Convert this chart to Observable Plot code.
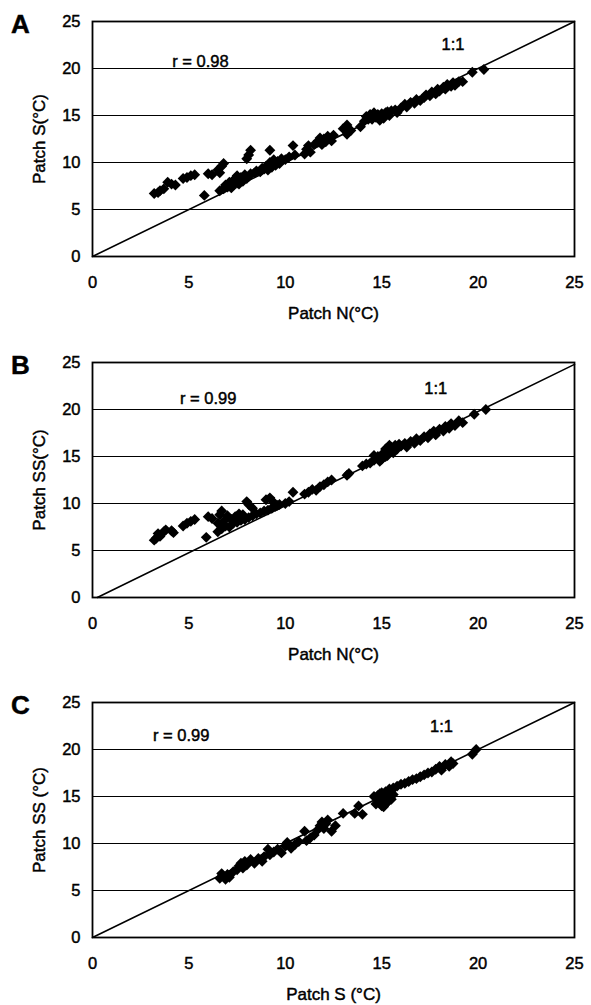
<!DOCTYPE html>
<html>
<head>
<meta charset="utf-8">
<script src="https://cdn.jsdelivr.net/npm/d3@7"></script>
<script src="https://cdn.jsdelivr.net/npm/@observablehq/plot@0.6"></script>
<style>
  html, body { margin: 0; padding: 0; background: #fff; }
  #wrap { position: relative; width: 591px; height: 1005px; overflow: hidden; }
  #wrap svg { position: absolute; left: 0; overflow: visible; }
  #wrap svg text { stroke: #000; stroke-width: 0.45px; }
</style>
</head>
<body>
<div id="wrap"></div>
<script>
// ---------- DATA ----------
const panelLetters = ["A", "B", "C"];
const xTitles = ["Patch N(°C)", "Patch N(°C)", "Patch S (°C)"];
const yTitles = ["Patch S(°C)", "Patch SS(°C)", "Patch SS (°C)"];
const rLabels = ["r = 0.98", "r = 0.99", "r = 0.99"];
const rLabelPos = [[5.6, 20.75], [6.0, 21.2], [4.6, 21.5]];
const oneToOnePos = [[18.7, 22.5], [17.8, 22.2], [18.1, 22.4]];
const oneToOneLines = [
  [[0, 0], [25, 25]],
  [[0.25, 0], [25, 24.8]],
  [[0, 0], [25, 25]]
];
const tickValues = [0, 5, 10, 15, 20, 25];
const gridValues = [5, 10, 15, 20];

// Panel A: Patch N (x) vs Patch S (y)
const pointsA = [
  [3.2,6.7],[3.4,6.8],[3.5,7.0],[3.7,7.2],[3.9,7.9],[4.1,7.7],[4.3,7.6],[4.7,8.3],[4.9,8.4],[5.1,8.6],
  [5.3,8.7],[6.0,8.8],[6.2,8.7],[6.5,9.2],[6.7,9.6],[6.8,9.9],[6.6,8.9],[8.0,10.4],[8.1,10.8],[8.2,11.3],
  [9.2,11.3],[10.4,11.8],[13.2,14.0],[13.0,13.6],[11.2,11.8],
  [5.8,6.5],[6.6,7.0],[6.8,7.2],[6.9,7.6],[7.0,7.4],[7.1,7.9],[7.2,7.6],[7.3,8.0],[7.4,8.3],[7.5,7.8],
  [7.5,8.6],[7.6,8.1],[7.7,8.4],[7.8,8.0],[7.9,8.7],[8.0,8.3],[8.2,8.8],[8.4,8.9],[8.5,9.1],[8.7,9.0],
  [8.9,9.3],[9.0,9.6],[9.1,9.2],[9.2,10.0],[9.3,9.5],[9.4,10.3],[9.5,9.7],[9.6,10.1],[9.7,9.9],[9.8,10.4],
  [10.0,10.3],[10.2,10.6],[10.5,10.8],[11.0,10.9],[11.1,11.4],[11.3,11.1],[11.5,11.9],[11.7,12.3],[11.8,12.6],[11.9,11.9],
  [12.0,12.5],[12.1,12.2],[12.2,12.8],[12.4,12.3],[12.5,12.9],[13.2,13.0],[13.4,13.4],[13.9,13.8],[14.1,14.4],[14.2,14.9],
  [14.4,15.1],[14.5,14.6],[14.6,15.3],[14.7,14.8],[14.8,15.1],[14.9,14.5],[15.0,15.2],[15.1,14.7],[15.2,15.3],[15.4,15.0],
  [15.5,15.5],[15.7,15.6],[15.8,15.3],[16.0,15.8],[16.2,16.2],[16.3,15.9],[16.5,16.4],[16.7,16.3],[16.8,16.7],[17.0,16.6],
  [17.2,16.9],[17.3,17.2],[17.5,17.1],[17.6,17.5],[17.8,17.3],[17.9,17.8],[18.0,17.6],[18.2,18.0],[18.3,17.8],[18.4,18.3],
  [18.6,18.1],[18.7,18.5],[18.8,18.2],[19.0,18.6],[19.2,18.6],[19.7,19.6],[20.3,19.9],
  [14.3,14.6],[14.6,15.0],[15.0,14.8],[15.3,15.4],[7.2,7.3],[7.6,7.7],[8.1,8.5],[8.8,9.4]
];

// Panel B: Patch N (x) vs Patch SS (y)
const pointsB = [
  [3.2,6.1],[3.3,6.3],[3.4,6.8],[3.5,6.5],[3.7,7.0],[3.8,7.2],[4.1,7.1],[4.2,6.9],[4.7,7.6],[4.9,7.9],
  [5.1,8.1],[5.3,8.3],[6.0,8.6],[6.2,8.4],[6.6,8.8],[6.7,9.2],[6.5,7.9],[6.8,8.1],[7.0,8.7],[7.2,8.3],
  [7.4,8.6],[7.6,8.9],[7.8,8.8],[8.0,10.2],[8.1,9.9],[8.3,9.5],[9.0,10.4],[9.2,10.6],[9.4,10.1],[9.6,9.8],
  [10.4,11.2],[14.6,15.1],
  [5.9,6.4],[6.5,7.0],[6.7,7.3],[6.9,7.6],[7.1,7.5],[7.3,7.9],[7.5,8.0],[7.7,8.2],[7.9,8.3],[8.1,8.5],
  [8.3,8.7],[8.5,8.9],[8.7,9.0],[8.9,9.2],[9.1,9.3],[9.3,9.5],[9.5,9.7],[9.7,9.9],[10.0,10.0],[10.2,10.2],
  [11.0,11.0],[11.2,11.2],[11.4,11.5],[11.6,11.4],[11.8,11.8],[12.0,12.0],[12.2,12.3],[12.4,12.5],[13.2,13.0],[13.3,13.2],
  [14.0,14.0],[14.2,14.2],[14.4,14.3],[14.6,14.6],[14.8,15.0],[15.0,14.7],[15.1,15.4],[15.2,15.8],[15.3,15.1],[15.4,15.6],
  [15.5,16.0],[15.6,15.4],[15.7,16.2],[15.8,15.8],[16.0,16.1],[16.2,16.4],[16.3,16.0],[16.5,16.6],[16.7,16.4],[16.8,16.9],
  [17.0,16.7],[17.2,17.1],[17.4,17.0],[17.5,17.4],[17.7,17.7],[17.8,17.3],[18.0,17.9],[18.2,17.7],[18.3,18.2],[18.5,18.0],
  [18.6,18.5],[18.8,18.3],[19.0,18.8],[19.2,18.6],[19.8,19.5],[20.4,20.0],
  [15.2,15.0],[15.4,16.2],[15.6,15.9],[15.9,16.3],[14.9,14.5]
];

// Panel C: Patch S (x) vs Patch SS (y)
const pointsC = [
  [6.6,6.3],[6.7,6.8],[6.8,6.5],[6.9,6.2],[7.0,6.7],[7.1,6.4],[7.3,7.0],[7.5,7.2],[7.6,7.6],[7.7,7.9],
  [7.8,7.4],[7.9,8.1],[8.0,7.7],[8.2,8.3],[8.4,7.9],[8.6,8.4],[8.8,8.1],[8.9,8.6],[9.1,9.4],[9.2,8.8],
  [9.4,9.1],[9.6,9.4],[9.8,9.0],[10.0,9.7],[10.1,10.1],[10.3,9.5],[10.5,9.9],[10.7,10.2],[11.0,11.3],[11.1,10.3],
  [11.3,10.6],[11.5,10.9],[11.7,11.5],[11.8,11.9],[11.9,12.3],[12.0,11.6],[12.1,12.1],[12.2,12.5],[12.4,11.3],[12.6,11.9],
  [13.0,13.2],[13.6,13.2],[13.8,14.0],[14.0,13.1],[14.6,15.0],[14.7,14.2],[14.8,14.7],[14.9,15.3],[15.0,14.0],[15.1,14.9],
  [15.2,15.5],[15.3,14.4],[15.4,15.8],[15.5,14.7],[15.6,15.9],[15.8,16.1],[16.0,16.3],[16.2,16.4],[16.4,16.6],[16.6,16.8],
  [16.8,16.9],[17.0,17.1],[17.2,17.3],[17.4,17.5],[17.6,17.6],[17.8,17.9],[18.0,18.2],[18.1,17.8],[18.3,18.4],[18.5,18.2],
  [18.6,18.7],[18.7,18.5],[19.7,19.5],[19.9,20.0],
  [14.8,15.1],[15.0,15.4],[15.2,14.2],[15.4,14.9],[15.6,15.2],[15.1,13.9],[14.9,14.4],[15.5,15.6]
];
const panelPoints = [pointsA, pointsB, pointsC];

// ---------- LAYOUT ----------
const svgTops = [0, 341, 681];
const W = 591, H = 335;
const font = "'Liberation Sans', Arial, Helvetica, sans-serif";

const wrap = document.getElementById("wrap");
panelPoints.forEach((pts, i) => {
  const chart = Plot.plot({
    width: W,
    height: H,
    marginTop: 21,
    marginBottom: 79,
    marginLeft: 92,
    marginRight: 17,
    style: { fontFamily: font, fontSize: "16px", color: "#000", background: "transparent" },
    x: { domain: [0, 25] },
    y: { domain: [0, 25] },
    marks: [
      Plot.ruleY(gridValues, { stroke: "#000", strokeWidth: 1 }),
      Plot.line(oneToOneLines[i], { x: d => d[0], y: d => d[1], stroke: "#000", strokeWidth: 1.6 }),
      Plot.dot(pts, { x: d => d[0], y: d => d[1], symbol: "diamond2", r: 4.9, fill: "#000", stroke: "none" }),
      Plot.frame({ stroke: "#000", strokeWidth: 1.8 }),
      Plot.axisY({ ticks: tickValues, tickSize: 0, tickPadding: 12, label: null, fontSize: 16.5 }),
      Plot.axisX({ ticks: tickValues, tickSize: 0, tickPadding: 20, label: null, fontSize: 16.5 }),
      Plot.text([rLabels[i]], { x: () => rLabelPos[i][0], y: () => rLabelPos[i][1], fontSize: 16.5, fill: "#000" }),
      Plot.text(["1:1"], { x: () => oneToOnePos[i][0], y: () => oneToOnePos[i][1], fontSize: 16.5, fill: "#000" }),
      Plot.text([xTitles[i]], { frameAnchor: "bottom", lineAnchor: "middle", textAnchor: "middle", dy: 57, fontSize: 17, fill: "#000" }),
      Plot.text([yTitles[i]], { frameAnchor: "left", textAnchor: "middle", lineAnchor: "middle", dx: -53, rotate: -90, fontSize: 17, fill: "#000" }),
      Plot.text([panelLetters[i]], { frameAnchor: "top-left", textAnchor: "middle", lineAnchor: "middle", dx: -72, dy: 3, fontSize: 26, fontWeight: "bold", fill: "#000" })
    ]
  });
  chart.style.top = svgTops[i] + "px";
  wrap.appendChild(chart);
});
</script>
</body>
</html>
